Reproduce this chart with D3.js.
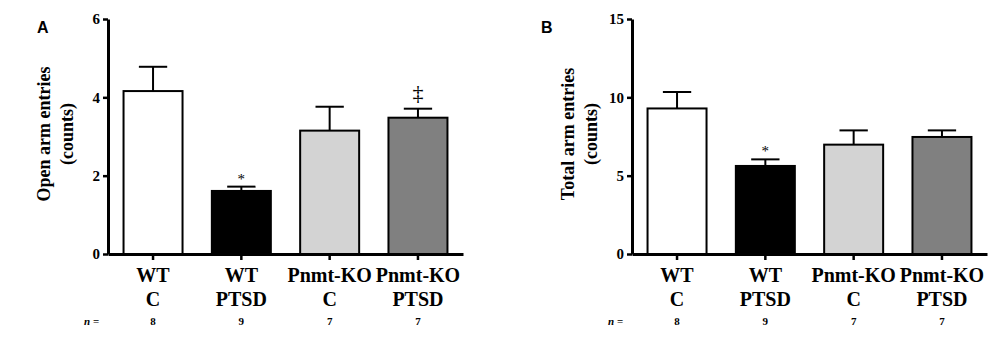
<!DOCTYPE html>
<html>
<head>
<meta charset="utf-8">
<script src="https://cdn.jsdelivr.net/npm/d3@7"></script>
<style>
  body { margin: 0; background: #fff; }
</style>
</head>
<body>
<div id="chart"></div>
<script>
// groups and data
var groupTop = ["WT", "WT", "Pnmt-KO", "Pnmt-KO"]
var groupBottom = ["C", "PTSD", "C", "PTSD"]
var groupFill = ["#ffffff", "#000000", "#d3d3d3", "#808080"]
var nValues = [8, 9, 7, 7]

var openMean = [4.16, 1.61, 3.15, 3.48]
var openSem = [0.62, 0.11, 0.61, 0.23]
var openMarks = ["", "*", "", "\u2021"]
var openTicks = [0, 2, 4, 6]

var totalMean = [9.29, 5.62, 6.98, 7.47]
var totalSem = [1.05, 0.42, 0.91, 0.42]
var totalMarks = ["", "*", "", ""]
var totalTicks = [0, 5, 10, 15]

var serif = "'Liberation Serif', 'Times New Roman', serif"

var svg = d3.select("#chart")
  .append("svg")
  .attr("width", 1000)
  .attr("height", 338)

var top0 = 19, base = 254

function label(g, x, y, size, txt) {
  return g.append("text")
    .attr("x", x).attr("y", y)
    .attr("text-anchor", "middle")
    .attr("font-family", serif)
    .attr("font-weight", "bold")
    .attr("font-size", size)
    .text(txt)
}

function drawPanel(opt) {
  var g = svg.append("g")
  var idx = d3.range(groupTop.length)

  var x = d3.scaleBand()
    .domain(idx)
    .range([opt.left, opt.right])
    .paddingInner(0.332)
    .paddingOuter(0.176)

  var y = d3.scaleLinear()
    .domain([0, d3.max(opt.ticks)])
    .range([base, top0])

  // bars
  g.selectAll("rect.bar")
    .data(idx)
    .enter()
    .append("rect")
    .attr("class", "bar")
    .attr("x", function (i) { return x(i) })
    .attr("y", function (i) { return y(opt.mean[i]) })
    .attr("width", x.bandwidth())
    .attr("height", function (i) { return base - y(opt.mean[i]) })
    .attr("fill", function (i) { return groupFill[i] })
    .attr("stroke", "#000")
    .attr("stroke-width", 2)

  // error bars (upper only)
  var cap = x.bandwidth() * 0.24
  idx.forEach(function (i) {
    var cx = x(i) + x.bandwidth() / 2
    var yt = y(opt.mean[i] + opt.sem[i])
    g.append("line")
      .attr("x1", cx).attr("x2", cx)
      .attr("y1", y(opt.mean[i])).attr("y2", yt)
      .attr("stroke", "#000").attr("stroke-width", 2)
    g.append("line")
      .attr("x1", cx - cap).attr("x2", cx + cap)
      .attr("y1", yt).attr("y2", yt)
      .attr("stroke", "#000").attr("stroke-width", 2)
    if (opt.marks[i] === "*") {
      label(g, cx, yt - 3, "15px", "*").attr("font-weight", "normal").attr("fill", "#000")
    } else if (opt.marks[i]) {
      label(g, cx, yt - 9, "22px", opt.marks[i]).attr("font-weight", "normal").attr("fill", "#000")
    }
  })

  // y axis
  var yAxis = g.append("g")
    .attr("transform", "translate(" + opt.left + ",0)")
    .call(d3.axisLeft(y).tickValues(opt.ticks).tickFormat(d3.format("d"))
      .tickSize(5).tickSizeOuter(0).tickPadding(3))
  yAxis.select(".domain").attr("stroke-width", 3)
  yAxis.selectAll(".tick line").attr("stroke-width", 2.5)
  yAxis.selectAll(".tick text")
    .attr("font-size", "15px")
    .attr("font-family", serif)
    .attr("font-weight", "bold")
    .attr("fill", "#000")

  // x axis
  var xAxis = g.append("g")
    .attr("transform", "translate(0," + base + ")")
    .call(d3.axisBottom(x).tickSize(6).tickSizeOuter(0).tickFormat(""))
  xAxis.select(".domain").attr("stroke-width", 3)
  xAxis.selectAll(".tick line").attr("stroke-width", 2.5)

  // category labels
  idx.forEach(function (i) {
    var cx = x(i) + x.bandwidth() / 2
    label(g, cx, 282, "20px", groupTop[i])
    label(g, cx, 306, "20px", groupBottom[i])
    label(g, cx, 325, "11px", nValues[i])
  })
  var nl = label(g, opt.left - 24, 325, "11px", "").attr("text-anchor", "start")
  nl.append("tspan").attr("font-style", "italic").text("n")
  nl.append("tspan").text(" =")

  // y title
  var title = g.append("text")
    .attr("transform", "translate(" + (opt.left - 58) + "," + 134 + ") rotate(-90)")
    .attr("text-anchor", "middle")
    .attr("font-family", serif)
    .attr("font-weight", "bold")
    .attr("font-size", "18px")
  title.append("tspan").attr("x", 0).attr("dy", 0).text(opt.title)
  title.append("tspan").attr("x", 0).attr("dy", 23).text("(counts)")

  // panel letter
  g.append("text")
    .attr("x", opt.letterX).attr("y", 33)
    .attr("font-family", "'Liberation Sans', Arial, sans-serif")
    .attr("font-weight", "bold")
    .attr("font-size", "16px")
    .text(opt.letter)
}

drawPanel({ left: 108, right: 463, mean: openMean, sem: openSem, marks: openMarks,
  ticks: openTicks, title: "Open arm entries", letter: "A", letterX: 37 })
drawPanel({ left: 632, right: 987, mean: totalMean, sem: totalSem, marks: totalMarks,
  ticks: totalTicks, title: "Total arm entries", letter: "B", letterX: 541 })
</script>
</body>
</html>
